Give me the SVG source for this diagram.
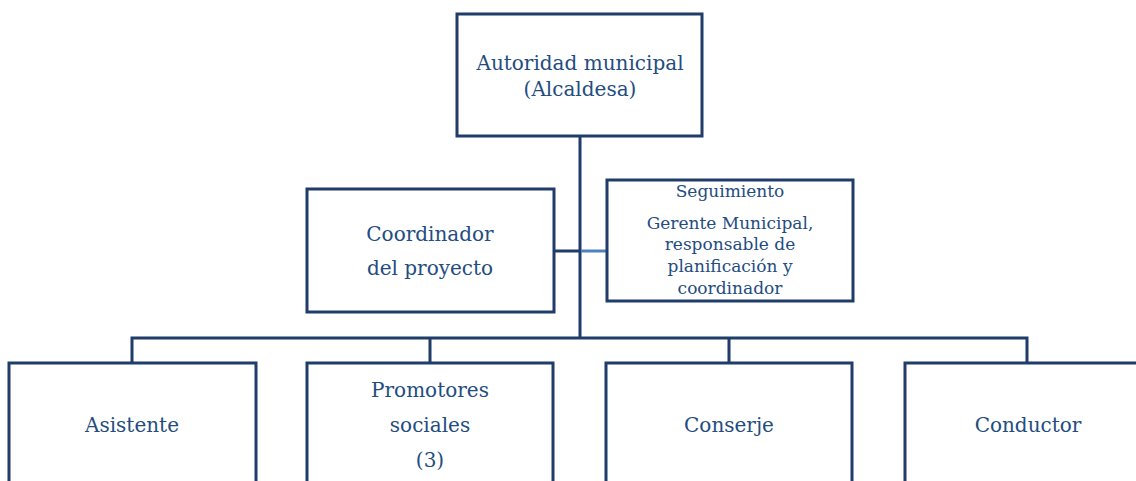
<svg xmlns="http://www.w3.org/2000/svg" width="1136" height="481" viewBox="0 0 1136 481">
<style>
.box{fill:#fff;stroke:#1f3c6b;stroke-width:3}
.ln{fill:none;stroke:#1f3c6b;stroke-width:3}
.lb{fill:none;stroke:#4f81bd;stroke-width:3}
text{font-family:"DejaVu Serif","Liberation Serif",serif;fill:#234c80;text-anchor:middle;font-size:20px}
.s{font-size:17px}
</style>
<rect width="1136" height="481" fill="#fff"/>
<g id="connectors">
<path class="ln" d="M580 136V338M132 363V338H1027V363M430 338V363M729 338V363M554 251H580"/>
<path class="lb" d="M581 251H607"/>
</g>
<g id="autoridad">
<rect class="box" x="457" y="14" width="245" height="122"/>
<text x="580" y="70">Autoridad municipal</text>
<text x="580" y="96">(Alcaldesa)</text>
</g>
<g id="coordinador">
<rect class="box" x="307" y="189" width="247" height="123"/>
<text x="430" y="241">Coordinador</text>
<text x="430" y="275">del proyecto</text>
</g>
<g id="seguimiento">
<rect class="box" x="607" y="180" width="246" height="121"/>
<text class="s" x="730" y="197">Seguimiento</text>
<text class="s" x="730" y="229">Gerente Municipal,</text>
<text class="s" x="730" y="250">responsable de</text>
<text class="s" x="730" y="272">planificación y</text>
<text class="s" x="730" y="294">coordinador</text>
</g>
<g id="asistente">
<rect class="box" x="9" y="363" width="247" height="130"/>
<text x="132" y="432">Asistente</text>
</g>
<g id="promotores">
<rect class="box" x="307" y="363" width="246" height="130"/>
<text x="430" y="397">Promotores</text>
<text x="430" y="432">sociales</text>
<text x="430" y="467">(3)</text>
</g>
<g id="conserje">
<rect class="box" x="606" y="363" width="246" height="130"/>
<text x="729" y="432">Conserje</text>
</g>
<g id="conductor">
<rect class="box" x="905" y="363" width="246" height="130"/>
<text x="1028" y="432">Conductor</text>
</g>
</svg>
